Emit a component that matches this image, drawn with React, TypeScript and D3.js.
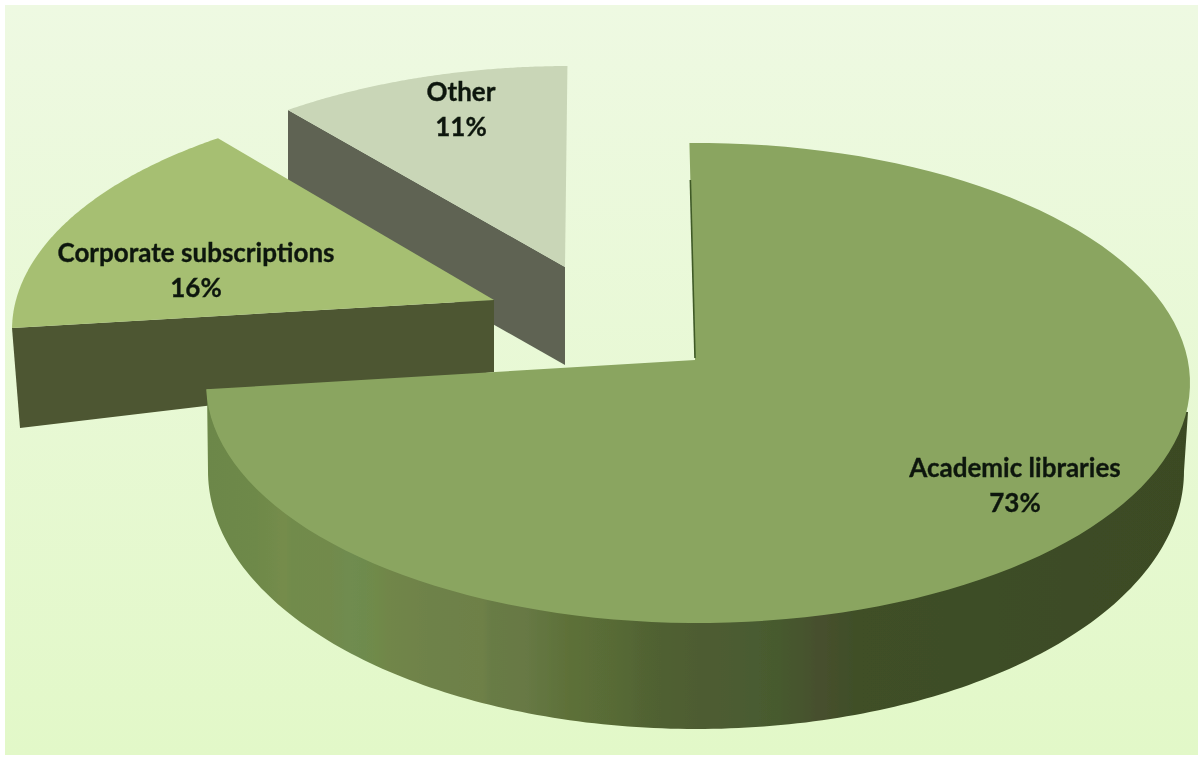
import React from "react";
import * as d3 from "d3";

const categories = ["Academic libraries", "Corporate subscriptions", "Other"];
const shares = [73, 16, 11];
const topColors = ["#8aa561", "#a6bf72", "#c9d6b7"];
const sideColors = ["#3d4a25", "#4d5632", "#5e6453"];
const bandOffsets = [207, 257, 284, 292, 330, 350, 362, 376, 388, 429, 483, 492, 525, 570, 613, 645, 700, 735, 780, 820, 860, 1200];
const bandColors = ["#6c8748", "#6e8949", "#758c4c", "#718b4c", "#728a4c", "#6f8c50", "#6e8b4e", "#6f8a4a", "#71864a", "#6e8249", "#6e8047", "#687b45", "#677945", "#5d7038", "#586b36", "#516333", "#4e5c33", "#4c5c32", "#465a2e", "#474f2e", "#3f4f27", "#3b4a24"];

type Shape = { cx: number; cy: number; rx: number; ry: number; apexX: number; apexY: number; apexDrop: number; rimDrop: number; rimShift: number; startNudge: number };
const shapes: Shape[] = [
  { cx: 698, cy: 383, rx: 492, ry: 240, apexX: 695, apexY: 360, apexDrop: 0, rimDrop: 0, rimShift: 0, startNudge: 0 },
  { cx: 500, cy: 330, rx: 488, ry: 235, apexX: 494, apexY: 300, apexDrop: 72, rimDrop: 100, rimShift: 8, startNudge: 2 },
  { cx: 570, cy: 305, rx: 488, ry: 239, apexX: 565, apexY: 267, apexDrop: 98, rimDrop: 98, rimShift: 0, startNudge: 0 },
];

const W = 1202;
const H = 759;
const rad = Math.PI / 180;
const pieAngles = d3.pie<number>().sort(null).startAngle(0).endAngle(2 * Math.PI)(shares);
const warp = d3.scaleLinear()
  .domain([0, 262.8 * rad, 320.4 * rad, 360 * rad])
  .range([-1 * rad, 268.5 * rad, 324.7 * rad, 359.7 * rad]);

const onRim = (s: Shape, a: number): [number, number] => [s.cx + s.rx * Math.sin(a), s.cy - s.ry * Math.cos(a)];
const line = d3.line();
const arcPoints = (s: Shape, a0: number, a1: number) =>
  d3.range(0, 121).map((i) => onRim(s, a0 + ((a1 - a0) * i) / 120));
const startOf = (i: number) => warp(pieAngles[i].startAngle) + shapes[i].startNudge * rad;

function topFace(i: number) {
  const s = shapes[i];
  return line([[s.apexX, s.apexY], ...arcPoints(s, startOf(i), warp(pieAngles[i].endAngle))]) + "Z";
}

function cutFace(i: number) {
  const s = shapes[i];
  const p = onRim(s, startOf(i));
  return line([
    [s.apexX, s.apexY],
    p,
    [p[0] + s.rimShift, p[1] + s.rimDrop],
    [s.apexX, s.apexY + s.apexDrop],
  ]) + "Z";
}

// The main slice's wall: the lower rim is a taller ellipse than the top face.
const wall = { cx: 696, cy: 471, rx: 488, ry: 258 };
const wallPath = (() => {
  const pts: [number, number][] = d3.range(0, 181).map((i) => {
    const a = (90 + i) * rad;
    return [wall.cx + wall.rx * Math.sin(a), wall.cy - wall.ry * Math.cos(a)] as [number, number];
  });
  return line([[1188, 412], ...pts, [207, 389]]) + "Z";
})();

// Sliver of the main slice's inner wall, seen along its upper cut edge.
const sliver = (() => {
  const s = shapes[0];
  const top = onRim(s, startOf(0));
  const from = d3.interpolate(top, [s.apexX, s.apexY])(0.17) as unknown as [number, number];
  return line([from, [s.apexX, s.apexY - 2]]) as string;
})();

const labelPos: [number, number][] = [[1015, 477], [196, 262], [461, 101]];

export default function App() {
  const x = d3.scaleLinear().domain([0, W]).range([0, 1]);
  return (
    <svg width={W} height={H} viewBox={`0 0 ${W} ${H}`} style={{ position: "absolute", left: 0, top: 0, background: "#fff" }}>
      <defs>
        <linearGradient id="bg" x1="0" y1="0" x2="0" y2="1">
          <stop offset="0" stopColor="#eef9e2" />
          <stop offset="1" stopColor="#e2f8c8" />
        </linearGradient>
        <linearGradient id="wall" gradientUnits="userSpaceOnUse" x1="0" x2={W} y1="0" y2="0">
          {bandOffsets.map((o, i) => (
            <stop key={i} offset={x(o)} stopColor={bandColors[i]} />
          ))}
        </linearGradient>
        <filter id="soft" x="-5%" y="-20%" width="110%" height="140%">
          <feGaussianBlur stdDeviation="0.55" />
        </filter>
      </defs>
      <rect x={5} y={5} width={1193} height={750} fill="url(#bg)" />
      <g filter="url(#soft)">
        <path d={cutFace(2)} fill={sideColors[2]} />
        <path d={topFace(2)} fill={topColors[2]} />
        <path d={cutFace(1)} fill={sideColors[1]} />
        <path d={topFace(1)} fill={topColors[1]} />
        <path d={wallPath} fill="url(#wall)" />
        <path d={topFace(0)} fill={topColors[0]} />
        <path d={sliver} fill="none" stroke="#3f5a28" strokeWidth={1.6} />
      </g>
      <g filter="url(#soft)" fontFamily="Lato, Carlito, sans-serif" fontWeight={700} fontSize={26} fill="#10190f" stroke="#10190f" strokeWidth={0.35} textAnchor="middle">
        {categories.map((c, i) => (
          <text key={c} x={labelPos[i][0]} y={labelPos[i][1]}>
            <tspan x={labelPos[i][0]}>{c}</tspan>
            <tspan x={labelPos[i][0]} dy={35}>{shares[i]}%</tspan>
          </text>
        ))}
      </g>
    </svg>
  );
}
